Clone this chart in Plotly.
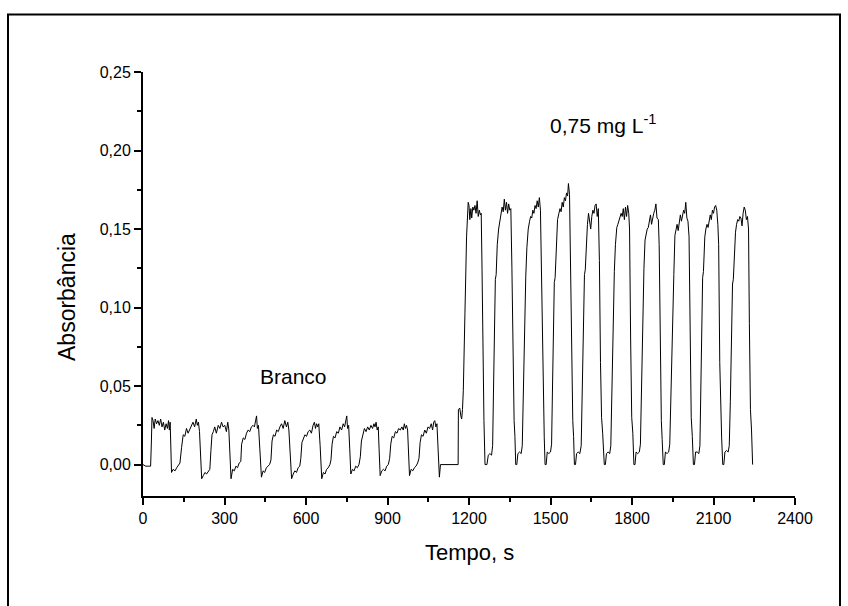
import plotly.graph_objects as go

# ---- data ----
# Blank ("Branco") injections, time in s and absorbance
BLANK_T = [0, 10, 20, 28, 31, 33, 37, 41, 45, 50, 55, 60, 65, 70, 75, 80, 85, 90, 94, 97, 100, 103,
           105, 111, 118, 124, 130, 136, 142, 148, 154, 160, 166, 172, 178, 184, 190, 196, 200, 204, 208, 211,
           216, 222, 228, 234, 240, 246, 250, 254, 259, 264, 270, 277, 283, 289, 295, 301, 307, 312, 316, 319,
           324, 330, 336, 342, 348, 354, 360, 363, 369, 375, 381, 387, 393, 399, 405, 410, 414, 418, 421, 425, 430,
           436, 442, 448, 454, 460, 466, 471, 475, 480, 486, 492, 498, 504, 510, 516, 522, 528, 533, 537, 542,
           547, 553, 559, 565, 571, 577, 581, 585, 590, 596, 602, 608, 614, 620, 626, 631, 635, 639, 643, 647, 652,
           658, 664, 670, 676, 682, 688, 692, 696, 701, 707, 713, 719, 725, 731, 737, 742, 746, 750, 753, 757, 761,
           765, 771, 777, 783, 789, 795, 800, 804, 809, 815, 821, 827, 833, 839, 845, 850, 854, 858, 862, 866, 869,
           873, 879, 885, 891, 897, 903, 908, 912, 917, 923, 929, 935, 941, 947, 953, 958, 962, 966, 970, 974, 977,
           981, 987, 993, 999, 1005, 1011, 1016, 1020, 1025, 1031, 1037, 1043, 1049, 1055, 1061, 1066, 1070, 1074,
           1078, 1082, 1086, 1091, 1095, 1100]
BLANK_A = [0.000, -0.001, -0.001, -0.001, 0.015, 0.030, 0.028, 0.023, 0.029, 0.026, 0.028, 0.025, 0.029, 0.024,
           0.027, 0.022, 0.026, 0.023, 0.028, 0.022, 0.027, 0.008,
           -0.005, -0.003, -0.004, -0.002, 0.000, 0.001, 0.011, 0.019, 0.018, 0.023, 0.020, 0.022, 0.025, 0.027,
           0.024, 0.029, 0.025, 0.027, 0.021, 0.010,
           -0.009, -0.007, -0.005, -0.006, -0.004, -0.003, 0.009, 0.019, 0.021, 0.024, 0.020, 0.025, 0.023, 0.027,
           0.024, 0.025, 0.021, 0.027, 0.022, 0.012,
           -0.009, -0.003, -0.004, -0.001, -0.002, 0.001, 0.002, 0.013, 0.017, 0.016, 0.020, 0.022, 0.021, 0.024,
           0.025, 0.024, 0.027, 0.031, 0.023, 0.025, 0.010,
           -0.008, -0.004, -0.005, -0.002, -0.001, 0.000, 0.003, 0.015, 0.019, 0.018, 0.022, 0.021, 0.024, 0.026,
           0.023, 0.028, 0.024, 0.027, 0.022, 0.008,
           -0.009, -0.006, -0.004, -0.005, -0.002, -0.001, 0.004, 0.014, 0.017, 0.019, 0.018, 0.021, 0.022, 0.020,
           0.025, 0.027, 0.023, 0.026, 0.024, 0.026, 0.012,
           -0.009, -0.005, -0.006, -0.003, -0.002, 0.000, 0.003, 0.013, 0.018, 0.017, 0.021, 0.020, 0.024, 0.022,
           0.026, 0.024, 0.027, 0.031, 0.023, 0.025, 0.010,
           -0.006, -0.003, -0.004, -0.001, -0.002, 0.000, 0.005, 0.015, 0.019, 0.023, 0.021, 0.024, 0.022, 0.025,
           0.023, 0.026, 0.024, 0.027, 0.022, 0.024, 0.010,
           -0.007, -0.004, -0.003, -0.004, -0.001, 0.000, 0.004, 0.013, 0.018, 0.017, 0.021, 0.020, 0.023, 0.022,
           0.024, 0.022, 0.026, 0.023, 0.025, 0.022, 0.009,
           -0.007, -0.003, -0.004, -0.002, -0.001, 0.001, 0.004, 0.014, 0.019, 0.018, 0.022, 0.020, 0.024, 0.023,
           0.026, 0.022, 0.027, 0.028, 0.024, 0.026, 0.010, -0.008, 0.000, 0.000]

# 0,75 mg L-1 standard injections
SAMPLE_T = [1160, 1161, 1166, 1170, 1173, 1176, 1179, 1185, 1191, 1197, 1200, 1203, 1207, 1210, 1214, 1218,
            1222, 1226, 1230, 1234, 1238, 1242, 1245, 1248, 1251, 1255, 1259,
            1262, 1266, 1271, 1277, 1283, 1287, 1290, 1293, 1297, 1300, 1304, 1309, 1314, 1318, 1322, 1326, 1330,
            1334, 1338, 1342, 1346, 1350, 1354, 1358, 1362, 1366, 1369,
            1372, 1376, 1380, 1386, 1392, 1396, 1399, 1402, 1406, 1409, 1413, 1418, 1423, 1427, 1431, 1435, 1439,
            1443, 1447, 1451, 1455, 1459, 1463, 1467, 1471, 1474, 1477,
            1480, 1484, 1488, 1494, 1500, 1504, 1507, 1510, 1514, 1517, 1521, 1526, 1531, 1535, 1539, 1543, 1547,
            1551, 1555, 1559, 1563, 1566, 1570, 1574, 1578, 1582, 1585,
            1588, 1592, 1596, 1602, 1608, 1613, 1617, 1621, 1625, 1628, 1632, 1636, 1640, 1644, 1648, 1652, 1656,
            1660, 1664, 1668, 1672, 1676, 1680, 1684, 1688, 1692, 1695,
            1698, 1702, 1706, 1712, 1718, 1722, 1726, 1729, 1732, 1735, 1739, 1744, 1748, 1752, 1756, 1760, 1764,
            1768, 1772, 1776, 1780, 1784, 1788, 1791, 1795, 1799, 1803,
            1807, 1811, 1815, 1821, 1827, 1831, 1834, 1837, 1841, 1844, 1848, 1852, 1856, 1860, 1864, 1868, 1872,
            1876, 1880, 1884, 1888, 1892, 1897, 1900, 1904, 1908, 1911,
            1915, 1919, 1923, 1929, 1935, 1939, 1943, 1947, 1951, 1954, 1958, 1962, 1966, 1970, 1974, 1978, 1982,
            1986, 1990, 1994, 1998, 2002, 2006, 2010, 2014, 2018, 2022,
            2026, 2030, 2034, 2040, 2046, 2050, 2053, 2056, 2060, 2063, 2068, 2072, 2076, 2080, 2084, 2088, 2092,
            2096, 2100, 2104, 2108, 2112, 2116, 2119, 2123, 2127, 2130,
            2134, 2138, 2142, 2148, 2154, 2158, 2162, 2166, 2170, 2173, 2177, 2181, 2185, 2189, 2193, 2197, 2201,
            2205, 2209, 2213, 2217, 2221, 2225, 2229, 2232, 2236, 2240, 2244]
SAMPLE_A = [0.000, 0.035, 0.036, 0.031, 0.029, 0.035, 0.047, 0.096, 0.145, 0.167, 0.165, 0.156, 0.163, 0.157,
            0.164, 0.162, 0.165, 0.160, 0.168, 0.158, 0.162, 0.159, 0.160, 0.124, 0.071, 0.028, 0.000,
            0.000, 0.000, 0.006, 0.007, 0.006, 0.012, 0.045, 0.085, 0.118, 0.121, 0.140, 0.150, 0.156, 0.158, 0.164,
            0.161, 0.169, 0.162, 0.167, 0.160, 0.166, 0.162, 0.163, 0.125, 0.060, 0.028, 0.018,
            0.000, 0.000, 0.007, 0.008, 0.007, 0.012, 0.040, 0.080, 0.117, 0.120, 0.138, 0.150, 0.155, 0.158, 0.157,
            0.162, 0.160, 0.165, 0.163, 0.168, 0.164, 0.170, 0.162, 0.120, 0.055, 0.026, 0.017,
            0.000, 0.000, 0.008, 0.007, 0.008, 0.013, 0.045, 0.080, 0.116, 0.119, 0.140, 0.156, 0.160, 0.163, 0.161,
            0.167, 0.164, 0.170, 0.168, 0.173, 0.171, 0.179, 0.172, 0.125, 0.060, 0.028, 0.018,
            0.000, 0.000, 0.007, 0.008, 0.007, 0.012, 0.050, 0.090, 0.121, 0.124, 0.145, 0.153, 0.160, 0.155, 0.150,
            0.158, 0.162, 0.160, 0.165, 0.166, 0.158, 0.163, 0.130, 0.065, 0.030, 0.020, 0.010,
            0.000, 0.000, 0.007, 0.008, 0.007, 0.012, 0.050, 0.090, 0.119, 0.123, 0.140, 0.151, 0.153, 0.155, 0.157,
            0.160, 0.158, 0.163, 0.156, 0.164, 0.158, 0.165, 0.160, 0.150, 0.080, 0.030, 0.020,
            0.000, 0.000, 0.008, 0.007, 0.008, 0.013, 0.040, 0.080, 0.118, 0.125, 0.143, 0.147, 0.150, 0.151, 0.155,
            0.159, 0.153, 0.157, 0.160, 0.162, 0.166, 0.157, 0.156, 0.140, 0.060, 0.028, 0.016,
            0.000, 0.000, 0.008, 0.007, 0.008, 0.013, 0.045, 0.085, 0.117, 0.121, 0.146, 0.150, 0.153, 0.149, 0.155,
            0.159, 0.155, 0.158, 0.162, 0.160, 0.167, 0.157, 0.155, 0.145, 0.070, 0.030, 0.018,
            0.000, 0.000, 0.008, 0.008, 0.007, 0.012, 0.045, 0.085, 0.119, 0.123, 0.145, 0.150, 0.153, 0.151, 0.154,
            0.159, 0.156, 0.162, 0.160, 0.164, 0.165, 0.162, 0.153, 0.140, 0.065, 0.028, 0.017,
            0.000, 0.000, 0.008, 0.009, 0.008, 0.012, 0.040, 0.080, 0.115, 0.118, 0.135, 0.148, 0.153, 0.156, 0.155,
            0.158, 0.157, 0.152, 0.160, 0.164, 0.162, 0.156, 0.158, 0.150, 0.090, 0.035, 0.022, 0.000]

X_TICKS = [0, 300, 600, 900, 1200, 1500, 1800, 2100, 2400]
Y_TICKS = [0.00, 0.05, 0.10, 0.15, 0.20, 0.25]
X_LABEL = "Tempo, s"
Y_LABEL = "Absorbância"
BLANK_LABEL = "Branco"
SAMPLE_LABEL = "0,75 mg L<sup>-1</sup>"

FONT = "Arial, Liberation Sans, sans-serif"

fig = go.Figure()
fig.add_trace(go.Scatter(x=BLANK_T + SAMPLE_T, y=BLANK_A + SAMPLE_A, mode="lines",
                         line=dict(color="black", width=1), showlegend=False, hoverinfo="skip"))

L, R, T, B = 143, 53, 72, 110
W, H = 848, 606
pw, ph = W - L - R, H - T - B


def px2x(px):
    return (px - L) / pw


def py2y(py):
    return (H - B - py) / ph


fig.update_layout(
    width=W, height=H, margin=dict(l=L, r=R, t=T, b=B, pad=0),
    paper_bgcolor="white", plot_bgcolor="white",
    separators=",.",
    font=dict(family=FONT, color="black", size=16),
    xaxis=dict(range=[0, 2400], tickvals=X_TICKS, ticktext=[str(v) for v in X_TICKS],
               showgrid=False, zeroline=False, showline=True, linecolor="black", linewidth=2,
               ticks="outside", ticklen=7, tickwidth=1.5, tickcolor="black",
               tickfont=dict(size=16, family=FONT),
               minor=dict(dtick=150, tick0=0, ticks="outside", ticklen=4, tickwidth=1.5, tickcolor="black",
                          showgrid=False)),
    yaxis=dict(range=[-0.02, 0.25], tickvals=Y_TICKS, tickformat=".2f",
               showgrid=False, zeroline=False, showline=True, linecolor="black", linewidth=2,
               ticks="outside", ticklen=7, tickwidth=1.5, tickcolor="black",
               tickfont=dict(size=16, family=FONT),
               minor=dict(dtick=0.025, tick0=0, ticks="outside", ticklen=4, tickwidth=1.5, tickcolor="black",
                          showgrid=False)),
)

ann = [
    dict(text=X_LABEL, x=px2x(469), y=py2y(552), xanchor="center", yanchor="middle", font=dict(size=22)),
    dict(text=Y_LABEL, x=px2x(67), y=py2y(297), xanchor="center", yanchor="middle", textangle=-90,
         font=dict(size=23)),
    dict(text=BLANK_LABEL, x=px2x(293), y=py2y(376), xanchor="center", yanchor="middle", font=dict(size=21)),
    dict(text=SAMPLE_LABEL, x=px2x(548), y=py2y(124), xanchor="left", yanchor="middle", font=dict(size=21)),
]
for a in ann:
    a.update(xref="paper", yref="paper", showarrow=False)
fig.update_layout(annotations=ann)

# outer frame
fig.add_shape(type="rect", xref="paper", yref="paper",
              x0=px2x(8), x1=px2x(840), y0=py2y(610), y1=py2y(14.5),
              line=dict(color="black", width=2), layer="below")

fig.write_html("out.html")
